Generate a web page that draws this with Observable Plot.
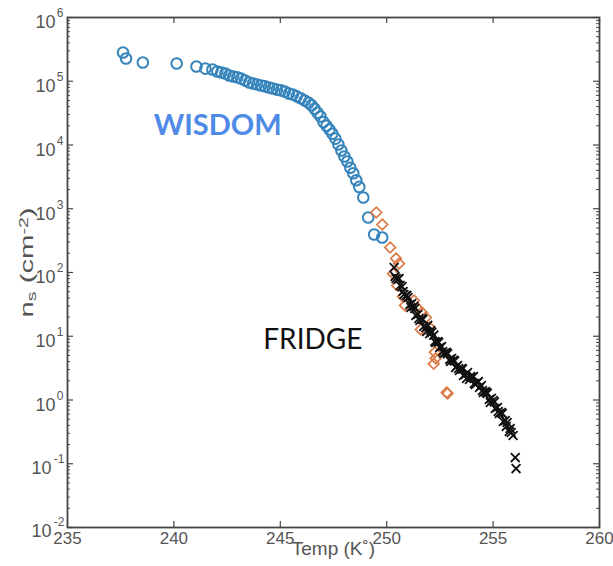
<!DOCTYPE html>
<html>
<head>
<meta charset="utf-8">
<script src="https://cdn.jsdelivr.net/npm/d3@7"></script>
<script src="https://cdn.jsdelivr.net/npm/@observablehq/plot@0.6"></script>
<style>
  html, body { margin: 0; padding: 0; background: #fff; }
  #chart svg { display: block; overflow: visible; }
</style>
</head>
<body>
<div id="chart"></div>
<script>
// WISDOM (blue circles)
const wisdomTemp = [237.61, 237.75, 238.54, 240.13, 241.06, 241.48, 241.81, 242.04, 242.23, 242.42, 242.60, 242.79, 242.98, 243.16, 243.35, 243.54, 243.72, 243.91, 244.10, 244.28, 244.47, 244.65, 244.84, 245.03, 245.21, 245.40, 245.59, 245.77, 245.96, 246.15, 246.33, 246.47, 246.61, 246.75, 246.89, 247.03, 247.17, 247.31, 247.45, 247.59, 247.73, 247.87, 248.01, 248.15, 248.29, 248.43, 248.57, 248.71, 248.90, 249.13, 249.41, 249.79];
const wisdomNs = [2.82e5, 2.28e5, 1.97e5, 1.90e5, 1.70e5, 1.58e5, 1.53e5, 1.42e5, 1.37e5, 1.32e5, 1.23e5, 1.19e5, 1.15e5, 1.10e5, 1.03e5, 9.56e4, 9.2e4, 8.9e4, 8.6e4, 8.3e4, 8.0e4, 7.7e4, 7.4e4, 7.2e4, 6.9e4, 6.4e4, 6.2e4, 5.8e4, 5.4e4, 5.0e4, 4.6e4, 4.2e4, 3.7e4, 3.2e4, 2.8e4, 2.3e4, 2.0e4, 1.75e4, 1.5e4, 1.26e4, 1.02e4, 8.2e3, 6.6e3, 5.5e3, 4.4e3, 3.6e3, 2.8e3, 2.2e3, 1.5e3, 730, 395, 354];

// orange diamonds
const diamondTemp = [249.51, 249.79, 250.16, 250.44, 250.58, 250.30, 250.49, 250.76, 250.86, 251.28, 251.46, 251.65, 251.84, 252.02, 251.60, 252.26, 252.30, 252.21, 252.86, 252.82];
const diamondNs = [873, 566, 247, 166, 138, 96, 62.5, 42, 30.4, 36.4, 27.2, 23.6, 19.7, 13.7, 12.8, 5.6, 4.5, 3.7, 1.27, 1.31];

// FRIDGE (black crosses)
const fridgeTemp = [250.35, 250.44, 250.53, 250.63, 250.72, 250.81, 250.91, 251.00, 251.09, 251.18, 251.28, 251.37, 251.46, 251.56, 251.65, 251.74, 251.84, 251.93, 252.02, 252.12, 252.21, 252.30, 252.40, 252.49, 252.58, 252.68, 252.77, 252.86, 252.96, 253.05, 253.14, 253.24, 253.33, 253.42, 253.52, 253.61, 253.70, 253.80, 253.89, 253.98, 254.08, 254.17, 254.26, 254.36, 254.45, 254.54, 254.64, 254.73, 254.82, 254.92, 255.01, 255.10, 255.20, 255.29, 255.38, 255.48, 255.57, 255.66, 255.76, 255.85, 255.94, 256.04, 256.08,
  250.39, 250.58, 250.77, 250.95, 251.14, 251.32, 251.51, 251.70, 251.88, 252.07, 252.26, 252.44, 252.63, 252.82, 253.00, 253.19, 253.38, 253.56, 253.75, 253.94, 254.12, 254.31, 254.50, 254.68, 254.87, 255.06, 255.24, 255.43, 255.62, 255.80];
const fridgeNs = [120, 80.5, 78, 62.5, 60, 45.2, 43.6, 40.5, 31.5, 32.5, 29.4, 21.2, 21.9, 17.7, 19.0, 14.2, 13.6, 14.8, 11.0, 11.5, 10.4, 7.98, 8.28, 6.67, 6.91, 5.36, 5.56, 5.30, 4.32, 4.47, 4.20, 3.24, 3.48, 2.90, 3.12, 2.42, 2.51, 2.70, 2.10, 2.25, 2.34, 1.75, 1.88, 1.57, 1.69, 1.31, 1.36, 1.27, 1.02, 1.06, 0.98, 0.736, 0.762, 0.614, 0.637, 0.460, 0.475, 0.444, 0.321, 0.309, 0.277, 0.125, 0.084,
  86.5, 80.5, 50.4, 43.6, 28.2, 27.2, 19.0, 18.3, 11.9, 12.3, 8.28, 8.0, 5.77, 5.56, 4.02, 4.1, 3.12, 3.05, 2.17, 2.34, 1.82, 1.95, 1.41, 1.31, 0.914, 0.93, 0.661, 0.614, 0.384, 0.357];

// axes
const xTicks = [235, 240, 245, 250, 255, 260];
const yMajor = [1e-2, 1e-1, 1e0, 1e1, 1e2, 1e3, 1e4, 1e5, 1e6];
const yExp = ["-2", "-1", "0", "1", "2", "3", "4", "5", "6"];
const yMinor = [];
for (let k = -2; k < 6; k++) for (let m = 2; m <= 9; m++) yMinor.push(m * Math.pow(10, k));

const W = 613, H = 566;
const mL = 67, mR = 14, mT = 17, mB = 39;
const pw = W - mL - mR, ph = H - mT - mB;
const axisColor = "#454545";
const labelColor = "#555";
const font = "Liberation Sans, Arial, sans-serif";

const posIdx = yMajor.map((d, i) => i).filter(i => yExp[i].length === 1);
const negIdx = yMajor.map((d, i) => i).filter(i => yExp[i].length > 1);

const chart = Plot.plot({
  width: W, height: H,
  marginLeft: mL, marginRight: mR, marginTop: mT, marginBottom: mB,
  style: {fontFamily: font, background: "#fff"},
  x: {domain: [235, 260], axis: null},
  y: {type: "log", domain: [1e-2, 1e6], axis: null},
  marks: [
    // ticks (inward, mirrored)
    Plot.tickY(yMinor, {y: d => d, insetRight: pw - 3, stroke: axisColor, strokeWidth: 1}),
    Plot.tickY(yMinor, {y: d => d, insetLeft: pw - 3, stroke: axisColor, strokeWidth: 1}),
    Plot.tickY(yMajor, {y: d => d, insetRight: pw - 6, stroke: axisColor, strokeWidth: 1.2}),
    Plot.tickY(yMajor, {y: d => d, insetLeft: pw - 6, stroke: axisColor, strokeWidth: 1.2}),
    Plot.tickX(xTicks, {x: d => d, insetTop: ph - 6, stroke: axisColor, strokeWidth: 1.2}),
    Plot.tickX(xTicks, {x: d => d, insetBottom: ph - 6, stroke: axisColor, strokeWidth: 1.2}),
    Plot.frame({stroke: axisColor, strokeWidth: 1.8}),
    // x tick labels
    Plot.text(xTicks, {x: d => d, frameAnchor: "bottom", dy: 16, text: d => String(d), fontSize: 17, fill: labelColor}),
    // y tick labels
    Plot.text(posIdx, {y: i => yMajor[i], frameAnchor: "left", dx: -12, dy: 5, textAnchor: "end", text: () => "10", fontSize: 18, fill: labelColor}),
    Plot.text(posIdx, {y: i => yMajor[i], frameAnchor: "left", dx: -4, dy: -4, textAnchor: "end", text: i => yExp[i], fontSize: 12, fill: labelColor}),
    Plot.text(negIdx, {y: i => yMajor[i], frameAnchor: "left", dx: -16, dy: 4, textAnchor: "end", text: () => "10", fontSize: 18, fill: labelColor}),
    Plot.text(negIdx, {y: i => yMajor[i], frameAnchor: "left", dx: -3, dy: -5, textAnchor: "end", text: i => yExp[i], fontSize: 12, fill: labelColor}),
    // axis labels
    Plot.text(["Temp (K˚)"], {frameAnchor: "bottom", dx: 0, dy: 27, text: d => d, textAnchor: "middle", fontSize: 19, fill: labelColor}),
    Plot.text(["n_s (cm^-2)"], {frameAnchor: "left", dx: -40, dy: -10, rotate: -90, text: d => d, textAnchor: "middle", fontSize: 18, fill: labelColor, className: "ylab"}),
    // data
    Plot.dot(wisdomTemp, {x: wisdomTemp, y: wisdomNs, r: 5.3, symbol: "circle", stroke: "#3584bb", strokeWidth: 2, fill: "none"}),
    Plot.dot(diamondTemp, {x: diamondTemp, y: diamondNs, r: 4.8, symbol: "diamond2", stroke: "#dc7a45", strokeWidth: 1.7, fill: "none"}),
    Plot.dot(fridgeTemp, {x: fridgeTemp, y: fridgeNs, r: 4.1, symbol: "times", stroke: "#111", strokeWidth: 1.8}),
    // annotations
    Plot.text(["WISDOM"], {x: 239.05, y: 2.0e4, text: d => d, textAnchor: "start", fontSize: 29, fontWeight: "bold", fill: "#4f8ae6", fontFamily: "Lato, Open Sans, sans-serif"}),
    Plot.text(["FRIDGE"], {x: 244.2, y: 8.6, text: d => d, textAnchor: "start", fontSize: 28, fill: "#111", fontFamily: "Lato, Open Sans, sans-serif"})
  ]
});
document.getElementById("chart").appendChild(chart);

// y-label with sub/superscript, stretched along its direction like the reference
const yl = chart.querySelector(".ylab text");
if (yl) {
  while (yl.firstChild) yl.removeChild(yl.firstChild);
  const ns = "http://www.w3.org/2000/svg";
  const add = (txt, opts) => {
    const t = document.createElementNS(ns, "tspan");
    t.textContent = txt;
    if (opts) for (const k in opts) t.setAttribute(k, opts[k]);
    yl.appendChild(t);
  };
  add("n");
  add("s", {"baseline-shift": "-22%", "font-size": "12"});
  add(" (cm");
  add("-2", {"baseline-shift": "38%", "font-size": "12"});
  add(")");
  yl.setAttribute("text-anchor", "middle");
  yl.setAttribute("textLength", "110");
  yl.setAttribute("lengthAdjust", "spacingAndGlyphs");
}
</script>
</body>
</html>
